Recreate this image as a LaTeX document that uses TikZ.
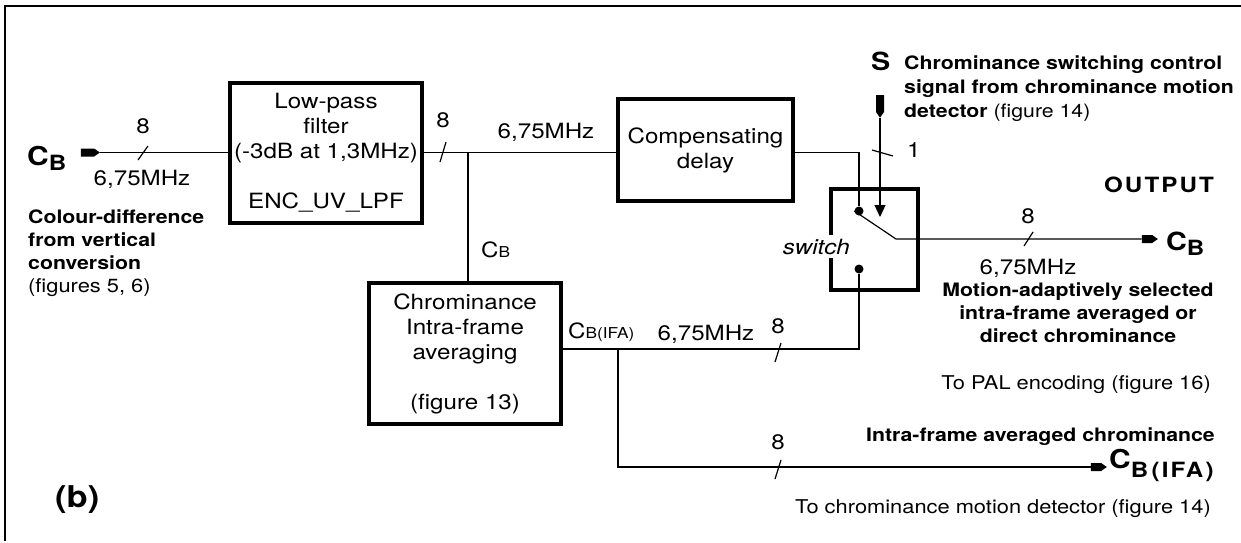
\documentclass[tikz,border=0pt]{standalone}
\usepackage{fontspec}
\setmainfont{TeX Gyre Heros}[FakeStretch=1.15]
\usetikzlibrary{shapes.symbols,arrows.meta,calc}
\newcommand\regf{\fontsize{21}{25}\selectfont}
\newcommand\bldf{\fontsize{18.5}{23}\selectfont\bfseries}
\newcommand\smallf{\fontsize{19}{23}\selectfont}
\begin{document}
\begin{tikzpicture}[x=1pt,y=-1pt,
  box/.style={draw,line width=3.6pt,inner sep=0pt,align=center,font=\regf},
  wire/.style={line width=1.2pt},
  dot/.style={circle,fill,inner sep=0pt,minimum size=9pt},
  sig/.style={signal,fill,draw=none,inner sep=0pt,signal pointer angle=70},
  txt/.style={inner sep=0pt,font=\regf},
  btxt/.style={inner sep=0pt,font=\bldf}]
\useasboundingbox (0,0) rectangle (1241,542);
% frame
\draw[line width=1.3pt] (1241,6) -- (5,6) -- (5,541);
% blocks
\node[box,minimum width=192pt,minimum height=140pt] (lpf) at (326,153)
  {Low-pass\\filter\\(-3dB at 1,3MHz)\\[25pt]ENC\_UV\_LPF};
\node[box,minimum width=175pt,minimum height=102pt] (delay) at (705.5,150)
  {Compensating\\delay};
\node[box,minimum width=87pt,minimum height=101pt] (sw) at (874.5,239.5) {};
\node[box,minimum width=192pt,minimum height=141pt] (chroma) at (465,353.5)
  {Chrominance\\Intra-frame\\averaging\\[25pt](figure 13)};
% markers
\node[sig,signal to=east,minimum width=19pt,minimum height=8pt] (inm) at (87.5,152.5) {};
\node[sig,signal to=east,minimum width=16pt,minimum height=8pt] (outm) at (1147,239) {};
\node[sig,signal to=east,minimum width=16pt,minimum height=8pt] (ifam) at (1096,467) {};
\node[sig,signal to=south,minimum width=8pt,minimum height=17pt] (sm) at (880,103.5) {};
% switch contacts
\node[dot] (d1) at (859,211) {};
\node[dot] (d2) at (859,269) {};
\coordinate (j1) at (468,152.5);
\coordinate (pivot) at (896,239);
\coordinate (ctip) at (880,217);
\coordinate (c2) at (859,349);
\coordinate (j2) at (618,349);
% wires
\draw[wire] (inm.east) -- (inm.east -| lpf.west);
\draw[wire] (lpf.east |- j1) -- (j1) -- (j1 -| delay.west);
\draw[wire] (j1) -- (j1 |- chroma.north);
\draw[wire] (delay.east |- j1) -- (j1 -| d1) -- (d1);
\draw[wire] (d1.west) -- (pivot) -- (outm.west);
\draw[wire,-{Triangle[length=12pt,width=11pt]}] (sm.south) -- (ctip);
\draw[wire] (d2) -- (c2) -- (c2 -| chroma.east);
\draw[wire] (j2) |- (ifam.west);
% bus slashes
\draw[wire] (138,160) -- (148,146);
\draw[wire] (440,162) -- (446,142);
\draw[wire] (872,150) -- (893,156);
\draw[wire] (1024,246) -- (1033,232);
\draw[wire] (775,362) -- (781,343);
\draw[wire] (775,479) -- (781,460);
% switch label (white ground breaks the box edge)
\node[anchor=base east,font=\regf\itshape,fill=white,inner xsep=1pt,inner ysep=4pt] (swl) at (851,254) {switch};
% signal names
\node[inner sep=0pt,anchor=base west] (cbin) at (27,165)
  {\bfseries\fontsize{26}{26}\selectfont C\raisebox{-5pt}{\fontsize{21}{21}\selectfont B}};
\node[inner sep=0pt,anchor=base west] (cbout) at (1166,250)
  {\bfseries\fontsize{25}{25}\selectfont C\raisebox{-5pt}{\fontsize{21}{21}\selectfont B}};
\node[inner sep=0pt,anchor=base west] (cbifa) at (1109,468)
  {\bfseries\fontsize{26}{26}\selectfont C\raisebox{-9pt}{\fontsize{21}{21}\selectfont\addfontfeatures{LetterSpace=10}B\,(IFA)}};
\node[inner sep=0pt,anchor=base west] (sname) at (871,70)
  {\bfseries\fontsize{25}{25}\selectfont S};
\node[txt,anchor=base west] (cblab) at (481,257)
  {\fontsize{21}{21}\selectfont C{\fontsize{15}{15}\selectfont B}};
\node[txt,anchor=base west] (cbifalab) at (568,338)
  {\fontsize{21}{21}\selectfont C{\fontsize{15}{15}\selectfont B(IFA)}};
% bus labels
\node[txt,anchor=base] (n1) at (143,133) {8};
\node[txt,anchor=base] (f1) at (142,185) {6,75MHz};
\node[txt,anchor=base] (n2) at (443,127) {8};
\node[txt,anchor=base] (f2) at (546,138) {6,75MHz};
\node[txt,anchor=base west] (n3) at (907,157) {1};
\node[txt,anchor=base] (n4) at (1028,223) {8};
\node[txt,anchor=base] (f4) at (1028,274) {6,75MHz};
\node[txt,anchor=base] (f5) at (706,340) {6,75MHz};
\node[txt,anchor=base] (n5) at (778,333) {8};
\node[txt,anchor=base] (n6) at (778,449) {8};
% annotations
\node[btxt,anchor=base west] (a1) at (28,223) {Colour-difference};
\node[btxt,anchor=base west] (a2) at (28,246) {from vertical};
\node[btxt,anchor=base west] (a3) at (28,269) {conversion};
\node[txt,anchor=base west,font=\smallf] (a4) at (28,292) {(figures 5, 6)};
\node[btxt,anchor=base west] (b1) at (904,69) {Chrominance switching control};
\node[btxt,anchor=base west] (b2) at (904,93) {signal from chrominance motion};
\node[btxt,anchor=base west] (b3) at (904,117) {detector {\mdseries(figure 14)}};
\node[inner sep=0pt,anchor=base,font=\fontsize{21}{21}\selectfont\bfseries\addfontfeatures{LetterSpace=10}] (outl) at (1159,192) {OUTPUT};
\node[btxt,anchor=base] (m1) at (1078,296) {Motion-adaptively selected};
\node[btxt,anchor=base] (m2) at (1078,319) {intra-frame averaged or};
\node[btxt,anchor=base] (m3) at (1078,342) {direct chrominance};
\node[txt,anchor=base east,font=\smallf] (p1) at (1211,389) {To PAL encoding (figure 16)};
\node[btxt,anchor=base east] (i1) at (1215,441) {Intra-frame averaged chrominance};
\node[txt,anchor=base east,font=\smallf] (i2) at (1211,513) {To chrominance motion detector (figure 14)};
\node[inner sep=0pt,anchor=base west,font=\fontsize{30}{30}\selectfont\bfseries] (bl) at (55,507) {(b)};
\end{tikzpicture}
\end{document}
